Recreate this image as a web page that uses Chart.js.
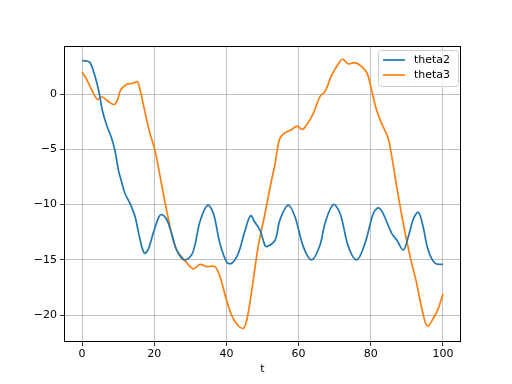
<!DOCTYPE html>
<html>
<head>
<meta charset="utf-8">
<script src="https://cdn.jsdelivr.net/npm/chart.js@4"></script>
<style>
html,body{margin:0;padding:0;background:#fff;}
#wrap{width:512px;height:384px;position:relative;}
</style>
</head>
<body>
<div id="wrap"><canvas id="c" width="512" height="384"></canvas></div>
<script>
const seriesNames = ["theta2", "theta3"];
const xTickValues = [0, 20, 40, 60, 80, 100];
const yTickValues = [-20, -15, -10, -5, 0];
const xLabel = "t";

const theta2Times = [0,1,2.2,3.6,4.8,5.6,6.8,8.2,9.1,10.1,11,11.9,13,13.5,14.7,16.1,17.3,18.4,19.7,21.3,22.1,23.4,24.8,26.2,28.3,30.6,32.7,34.8,36.4,38.2,40.1,41.5,43.3,45.2,46.7,47.9,49.3,50.7,51.3,53.5,54.8,57.1,59.0,61.3,63.6,65.9,67.3,69.6,71.5,73.8,76.1,78.4,80.7,82.1,83.4,85.8,87.2,89.0,90.4,91.8,93.2,94.5,95.9,97.8,100];
const theta2Values = [3.0,3.0,2.85,1.6,0,-1.45,-2.8,-4.0,-5.1,-6.9,-8.0,-9.0,-9.7,-10.05,-11.1,-13.2,-14.4,-14.0,-12.6,-11.1,-10.9,-11.3,-12.6,-14.1,-15.0,-14.4,-11.5,-10.05,-10.8,-13.5,-15.2,-15.3,-14.4,-12.3,-11.0,-11.6,-12.3,-13.7,-13.8,-13.2,-11.4,-10.05,-11.1,-13.8,-15.0,-13.7,-11.7,-10.0,-10.8,-13.8,-15.0,-13.5,-10.8,-10.3,-10.8,-12.6,-13.2,-14.1,-12.9,-11.3,-10.7,-12.0,-14.1,-15.3,-15.4];

const theta3Times = [0,1.3,2.7,4.3,5.5,7.3,8.9,9.8,10.7,12.4,14.2,15.3,16.1,17.5,18.8,20.2,21.6,23.0,24.8,26.2,28.1,30.8,32.7,34.5,36.8,38.2,40.1,41.9,44.5,45.6,47.0,48.8,50.7,52.5,53.5,54.6,55.8,58.1,59.6,61.0,62.2,64.1,65.9,67.3,69.2,71.0,72.2,73.8,75.6,77.5,79.0,80.4,81.6,83.0,84.8,86.0,87.2,89.0,90.9,92.7,94.5,95.7,97.3,98.7,100];
const theta3Values = [2.0,1.3,0.36,-0.5,-0.25,-0.7,-0.95,-0.55,0.36,0.88,0.97,1.12,0.36,-1.75,-3.56,-5.07,-7.4,-9.8,-12.6,-14.1,-14.9,-15.8,-15.4,-15.6,-15.6,-16.5,-18.7,-20.3,-21.2,-20.5,-17.8,-13.8,-10.8,-7.8,-6.3,-4.2,-3.6,-3.2,-2.9,-3.2,-2.8,-1.75,-0.24,0.21,1.72,2.72,3.14,2.72,2.84,2.48,1.87,0.1,-1.45,-2.66,-4.0,-6.0,-8.4,-11.7,-14.7,-17.1,-19.9,-21.0,-20.3,-19.4,-18.05];

const colors = ["#1f77b4", "#ff7f0e"];
const FONT = "DejaVu Sans";

function pts(ts, vs){ return ts.map((t,i)=>({x:t, y:vs[i]})); }

const frameAndLegend = {
  id: 'frameAndLegend',
  afterDraw(chart){
    const ctx = chart.ctx;
    const a = chart.chartArea;
    ctx.save();
    ctx.strokeStyle = '#000';
    ctx.lineWidth = 1;
    ctx.strokeRect(Math.round(a.left)+0.5, Math.round(a.top)+0.5, Math.round(a.right-a.left)-1, Math.round(a.bottom-a.top)-1);
    // legend
    const bx = 378.5, by = 50.5, bw = 80, bh = 36, r = 3;
    ctx.beginPath();
    ctx.moveTo(bx+r, by);
    ctx.lineTo(bx+bw-r, by); ctx.quadraticCurveTo(bx+bw, by, bx+bw, by+r);
    ctx.lineTo(bx+bw, by+bh-r); ctx.quadraticCurveTo(bx+bw, by+bh, bx+bw-r, by+bh);
    ctx.lineTo(bx+r, by+bh); ctx.quadraticCurveTo(bx, by+bh, bx, by+bh-r);
    ctx.lineTo(bx, by+r); ctx.quadraticCurveTo(bx, by, bx+r, by);
    ctx.closePath();
    ctx.fillStyle = 'rgba(255,255,255,0.8)';
    ctx.fill();
    ctx.strokeStyle = '#cccccc';
    ctx.stroke();
    ctx.font = '11px "' + FONT + '"';
    ctx.textBaseline = 'middle';
    ctx.textAlign = 'left';
    chart.data.datasets.forEach((ds, i) => {
      const y = 60 + i*15;
      ctx.strokeStyle = ds.borderColor;
      ctx.lineWidth = 1.7;
      ctx.beginPath(); ctx.moveTo(383, y); ctx.lineTo(405, y); ctx.stroke();
      ctx.fillStyle = '#000';
      ctx.fillText(ds.label, 414, y+0.5);
    });
    ctx.restore();
  }
};

new Chart(document.getElementById('c'), {
  type: 'line',
  data: {
    datasets: [
      {label: seriesNames[0], data: pts(theta2Times, theta2Values), borderColor: colors[0], backgroundColor: colors[0], borderWidth: 1.7, pointRadius: 0, tension: 0.35, fill: false},
      {label: seriesNames[1], data: pts(theta3Times, theta3Values), borderColor: colors[1], backgroundColor: colors[1], borderWidth: 1.7, pointRadius: 0, tension: 0.35, fill: false}
    ]
  },
  options: {
    responsive: false,
    animation: false,
    devicePixelRatio: 1,
    layout: {padding: {left: 0, right: 51, top: 46, bottom: 0}},
    plugins: {legend: {display: false}, tooltip: {enabled: false}},
    scales: {
      x: {
        type: 'linear', min: -5, max: 105,
        afterBuildTicks(s){ s.ticks = xTickValues.map(v=>({value:v})); },
        afterFit(s){ s.height = 42; },
        grid: {color: '#b0b0b0', lineWidth: 0.8, drawTicks: true, tickLength: 4, tickColor: '#000'},
        border: {display: false},
        ticks: {color: '#000', font: {family: FONT, size: 11}, padding: 2, maxRotation: 0, callback: v => String(v)},
        title: {display: true, text: xLabel, color: '#000', font: {family: FONT, size: 11}, padding: {top: 0, bottom: 8}}
      },
      y: {
        type: 'linear', min: -22.42, max: 4.34,
        afterBuildTicks(s){ s.ticks = yTickValues.map(v=>({value:v})); },
        afterFit(s){ s.width = 64; },
        grid: {color: '#b0b0b0', lineWidth: 0.8, drawTicks: true, tickLength: 4, tickColor: '#000'},
        border: {display: false},
        ticks: {color: '#000', font: {family: FONT, size: 11}, padding: 3, callback: v => v < 0 ? '\u2212' + Math.abs(v) : String(v)}
      }
    }
  },
  plugins: [frameAndLegend]
});
</script>
</body>
</html>
